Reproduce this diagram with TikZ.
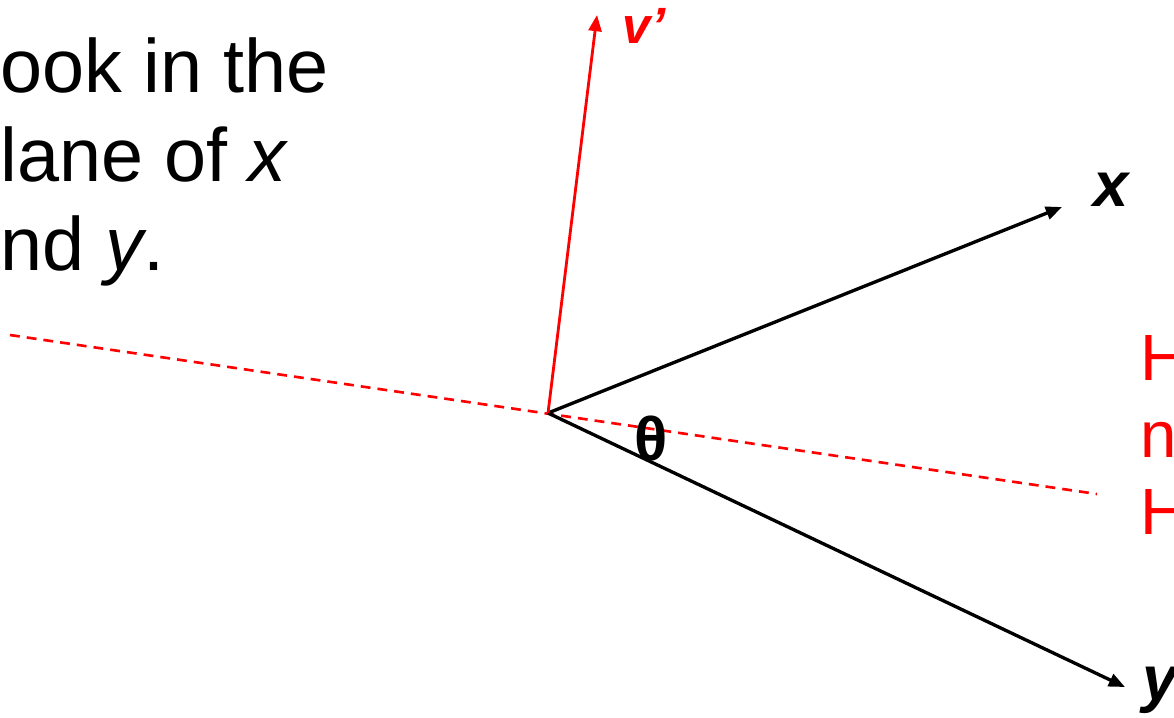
\documentclass[tikz,border=0pt]{standalone}
\usepackage{fontspec}
\setmainfont{Liberation Sans}
\usetikzlibrary{arrows.meta}
\tikzset{
  axis/.style={line width=0.95pt,-{Triangle[length=4.6pt,width=3.7pt]}},
  vaxis/.style={axis,red,line width=0.8pt},
  cutline/.style={red,line width=0.75pt,dash pattern=on 2.8pt off 2pt},
  lbl/.style={anchor=base west,inner sep=0pt,font=\bfseries\itshape\fontsize{18}{21}\selectfont}
}
\begin{document}
\begin{tikzpicture}[x=0.01cm,y=-0.01cm]
\useasboundingbox (0,0) rectangle (1174,717);
   \coordinate (O) at (548,413);
   \coordinate (vtip) at (597,15);
   \coordinate (xtip) at (1062,207);
   \coordinate (ytip) at (1125,687);
   \coordinate (d1) at (10,335);
   \coordinate (d2) at (1097,494);

   \node[anchor=base west,inner sep=0pt,align=left,font=\fontsize{21.5}{25.3}\selectfont] at (-42,270) (look) {Look in the\\plane of \textit{x}\\and \textit{y}.};
   \node[anchor=base west,inner sep=0pt,align=left,text=red,font=\fontsize{18.6}{21.8}\selectfont] at (1140,534) (hint) {H\\n\\H};

    \draw[cutline] (d1) -- (d2);
    \draw[axis] (O) -- (xtip);
    \draw[axis] (O) -- (ytip);
    \draw[vaxis] (O) -- (vtip);

   \node[lbl] at (1093,206) (xl) {x};
   \node[lbl] at (1142,700) (yl) {y};
   \node[lbl,red,font=\bfseries\itshape\fontsize{14.5}{17}\selectfont] at (622,43) (vl) {v’};
   \node[anchor=base west,inner sep=0pt,font=\bfseries\fontsize{17.5}{20}\selectfont] at (634,460) (theta) {θ};

    \end{tikzpicture}
\end{document}
